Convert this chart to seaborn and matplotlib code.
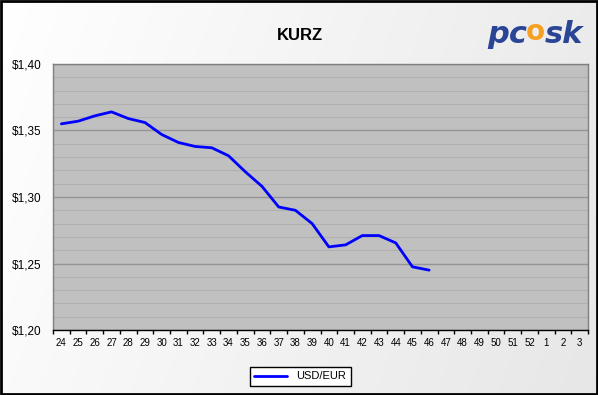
import numpy as np
import pandas as pd
import seaborn as sns
import matplotlib.pyplot as plt
from matplotlib.ticker import FixedLocator, FuncFormatter

# week labels shown on the x axis (calendar weeks)
weeks = [str(w) for w in range(24, 53)] + ["1", "2", "3"]
# USD/EUR rate for weeks 24..46
rate_weeks = [str(w) for w in range(24, 47)]
rates = [1.355, 1.357, 1.361, 1.364, 1.359, 1.356, 1.347, 1.341, 1.338,
         1.337, 1.331, 1.319, 1.308, 1.2925, 1.290, 1.280, 1.2625, 1.264,
         1.271, 1.271, 1.2655, 1.2475, 1.245]
series_name = "USD/EUR"

df = pd.DataFrame({
    "pos": [weeks.index(w) for w in rate_weeks],
    "rate": rates,
    "serie": series_name,
})

sns.set_theme(style="white")
plt.rcParams['font.family'] = ['Liberation Sans', 'DejaVu Sans']
plt.rcParams['text.color'] = 'black'
plt.rcParams['xtick.color'] = 'black'
plt.rcParams['ytick.color'] = 'black'

fig = plt.figure(figsize=(5.98, 3.95), dpi=100)

# background gradient, white on the left to light grey on the right
bg = fig.add_axes([0, 0, 1, 1], zorder=-10)
gx, gy = np.meshgrid(np.linspace(0, 1, 200), np.linspace(0, 1, 200))
shade = 1.0 - 0.095 * np.clip(0.8 * gx + 0.2 * gy, 0, 1)
bg.imshow(np.dstack([shade, shade, shade]), aspect="auto",
          extent=[0, 1, 0, 1], origin="upper")
bg.set_axis_off()

ax = fig.add_axes([53 / 598, 65 / 395, 535 / 598, 266 / 395])
ax.set_facecolor("#c0c0c0")

sns.lineplot(data=df, x="pos", y="rate", hue="serie", palette=["#0000ff"],
             linewidth=2, ax=ax, legend=False, zorder=5)

ax.set_xlim(-0.5, len(weeks) - 0.5)
ax.set_ylim(1.20, 1.40)

# y grid: major every 0.05, minor every 0.01
ax.yaxis.set_major_locator(FixedLocator(np.arange(1.20, 1.401, 0.05)))
ax.yaxis.set_minor_locator(FixedLocator(np.arange(1.20, 1.401, 0.01)))
ax.yaxis.set_major_formatter(FuncFormatter(lambda v, p: ("$%.2f" % v).replace(".", ",")))
ax.grid(which="major", axis="y", color="#959595", linewidth=1.0)
ax.grid(which="minor", axis="y", color="#b0b0b0", linewidth=0.8)
ax.set_axisbelow(True)
ax.tick_params(axis="y", which="both", length=0, labelsize=8.5, pad=8)

# x: tick marks at category boundaries, labels centred
ax.xaxis.set_major_locator(FixedLocator(np.arange(-0.5, len(weeks), 1)))
ax.xaxis.set_major_formatter(FuncFormatter(lambda v, p: ""))
ax.set_xticks(np.arange(len(weeks)), weeks, minor=True)
ax.tick_params(axis="x", which="major", length=3, width=1, color="black", direction="out", bottom=True)
ax.tick_params(axis="x", which="minor", length=0, labelsize=7, pad=6)

for side in ["top", "right", "left"]:
    ax.spines[side].set_color("#808080")
ax.spines["bottom"].set_color("black")
for s in ax.spines.values():
    s.set_linewidth(1)

ax.set_xlabel("")
ax.set_ylabel("")

fig.text(0.502, 0.91, "KURZ", ha="center", va="center", fontsize=12, fontweight="bold")

# logo
logo_blue = "#2a4596"
fig.text(487 / 598, 0.912, "pc", ha="left", va="center", fontsize=22, fontweight="bold",
         fontstyle="italic", color=logo_blue, family="DejaVu Sans")
fig.text(535 / 598, 0.918, "o", ha="center", va="center", fontsize=20, fontweight="bold",
         color="#f5a020", family="DejaVu Sans")
fig.text(545 / 598, 0.912, "sk", ha="left", va="center", fontsize=22, fontweight="bold",
         fontstyle="italic", color=logo_blue, family="DejaVu Sans")

handle = plt.Line2D([], [], color="#0000ff", linewidth=2)
leg = fig.legend([handle], [series_name], loc="center", bbox_to_anchor=(0.502, 0.047),
                 frameon=True, fancybox=False, edgecolor="black", framealpha=1,
                 fontsize=8, handlelength=3, borderpad=0.4)
leg.get_frame().set_linewidth(1)

# figure border
fig.patches.append(plt.Rectangle((0.001, 0.002), 0.997, 0.996, transform=fig.transFigure,
                                 fill=False, edgecolor="black", linewidth=2))

fig.savefig("out.png", dpi=100)
